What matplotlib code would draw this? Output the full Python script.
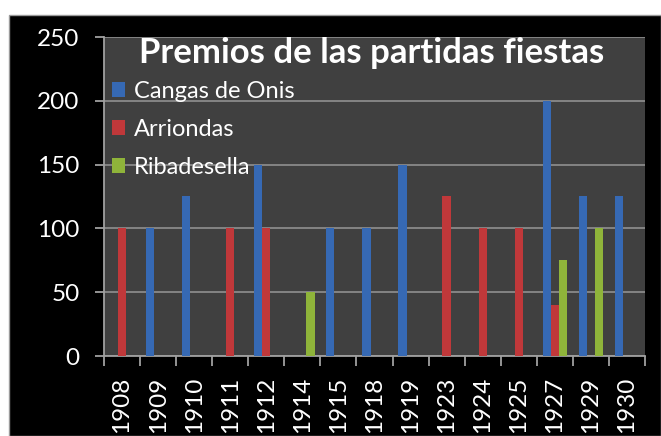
import matplotlib
matplotlib.use("Agg")
import matplotlib.pyplot as plt
import numpy as np
from matplotlib.patches import Rectangle

years = ["1908", "1909", "1910", "1911", "1912", "1914", "1915", "1918",
         "1919", "1923", "1924", "1925", "1927", "1929", "1930"]
cangas = [0, 100, 125, 0, 150, 0, 100, 100, 150, 0, 0, 0, 200, 125, 125]
arriondas = [100, 0, 0, 100, 100, 0, 0, 0, 0, 125, 100, 100, 40, 0, 0]
ribadesella = [0, 0, 0, 0, 0, 50, 0, 0, 0, 0, 0, 0, 75, 100, 0]
series_names = ["Cangas de Onis", "Arriondas", "Ribadesella"]
title = "Premios de las partidas fiestas"
yticks = [0, 50, 100, 150, 200, 250]

W, H = 661, 436
fig = plt.figure(figsize=(W / 100, H / 100), dpi=100)
fig.patch.set_facecolor("white")
fig.patches.append(Rectangle((9 / W, 0), 1 - 9 / W, (H - 15) / H,
                             transform=fig.transFigure, facecolor="black",
                             edgecolor="#9a9a9a", linewidth=1, zorder=-5))

ax = fig.add_axes([104 / W, (H - 356) / H, (645 - 104) / W, (356 - 37) / H])
ax.set_zorder(5)
ax.set_facecolor("#404040")

font = "Lato"
x = np.arange(len(years))
bw = 0.23
colors = ["#3669b4", "#c0383a", "#8fb43a"]
for i, (vals, c, name) in enumerate(zip([cangas, arriondas, ribadesella], colors, series_names)):
    ax.bar(x + (i - 1) * 0.225, vals, width=bw, color=c, label=name, zorder=3)

ax.set_xlim(-0.5, len(years) - 0.5)
ax.set_ylim(0, 250)
ax.set_yticks(yticks)
ax.set_yticklabels([str(v) for v in yticks], color="white", fontsize=17.5, fontname=font)
ax.set_xticks(x)
ax.set_xticklabels(years, rotation=90, color="white", fontsize=17.5, fontname=font)
ax.set_xticks(np.arange(-0.5, len(years)), minor=True)
ax.tick_params(axis="x", which="major", length=0, pad=15)
ax.tick_params(axis="x", which="minor", length=7, color="#a0a0a0", width=1.3)
ax.tick_params(axis="y", length=6.5, color="#a0a0a0", width=1.3, pad=11)
ax.yaxis.grid(True, color="#8a8a8a", linewidth=1.3, zorder=1)
ax.set_axisbelow(True)
for s in ["top", "right"]:
    ax.spines[s].set_visible(False)
for s in ["left", "bottom"]:
    ax.spines[s].set_color("#a0a0a0")
    ax.spines[s].set_linewidth(1.3)

ax.text(0.495, 0.95, title, transform=ax.transAxes, ha="center", va="center",
        color="white", fontsize=25, fontweight="bold", fontname=font)

leg = ax.legend(loc="upper left", bbox_to_anchor=(-0.003, 0.892), frameon=False,
                prop={"family": font, "size": 17}, labelcolor="white",
                handlelength=0.55, handleheight=0.55, handletextpad=0.4,
                labelspacing=0.72, borderaxespad=0.0)

fig.savefig("out.png", dpi=100, facecolor=fig.get_facecolor())
